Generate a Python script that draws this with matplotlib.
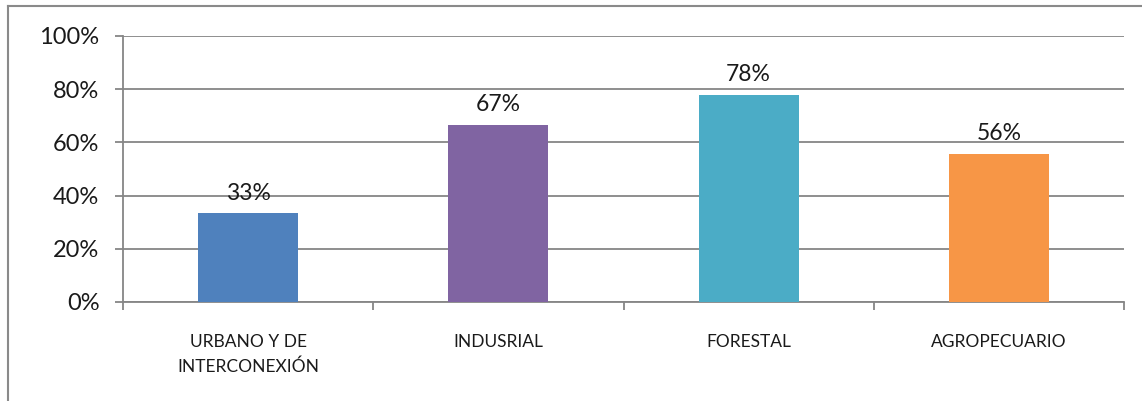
import matplotlib as mpl
mpl.use('Agg')
import matplotlib.pyplot as plt
from matplotlib.lines import Line2D
import numpy as np

categories = ["URBANO Y DE\nINTERCONEXIÓN", "INDUSRIAL", "FORESTAL", "AGROPECUARIO"]
values = [0.333, 0.667, 0.778, 0.556]
labels = ["33%", "67%", "78%", "56%"]
colors = ["#4F81BD", "#8064A2", "#4BACC6", "#F79646"]
yticks = [0, 0.2, 0.4, 0.6, 0.8, 1.0]

plt.rcParams['font.family'] = ['Lato', 'DejaVu Sans']
grid_col = '#868686'

W, H = 1142, 401
fig = plt.figure(figsize=(W / 100, H / 100), dpi=100)
ax = fig.add_axes([123 / W, 1 - 302 / H, (1124 - 123) / W, (302 - 36) / H])

x = np.arange(len(categories))
ax.bar(x, values, width=0.4, color=colors, zorder=3)
for xi, v, lab in zip(x, values, labels):
    ax.annotate(lab, (xi, v), xytext=(0, 7), textcoords='offset points',
                ha='center', va='bottom', fontsize=16.5, color='#1a1a1a')

ax.set_xlim(-0.5, len(categories) - 0.5)
ax.set_ylim(0, 1.0)
ax.set_yticks(yticks)
ax.set_yticklabels([f"{int(round(t * 100))}%" for t in yticks], fontsize=17, color='#1a1a1a')
ax.yaxis.grid(True, color=grid_col, linewidth=1.3, zorder=0)
ax.tick_params(axis='y', length=6, width=1.3, color=grid_col, pad=11)

ax.set_xticks(x)
ax.set_xticklabels(categories, fontsize=12.5, color='#1a1a1a', linespacing=1.6)
ax.tick_params(axis='x', which='major', length=0, pad=23)
ax.set_xticks(np.arange(len(categories) + 1) - 0.5, minor=True)
ax.tick_params(axis='x', which='minor', length=6, width=1.3, color=grid_col)

for s in ['top', 'right']:
    ax.spines[s].set_visible(False)
for s in ['left', 'bottom']:
    ax.spines[s].set_color(grid_col)
    ax.spines[s].set_linewidth(1.3)

# outer chart border (only left and top visible in crop)
fig.add_artist(Line2D([8 / W, 8 / W], [0, 1 - 6 / H], transform=fig.transFigure,
                      color='#8a8a8a', linewidth=1.5))
fig.add_artist(Line2D([8 / W, 1], [1 - 6 / H, 1 - 6 / H], transform=fig.transFigure,
                      color='#8a8a8a', linewidth=1.5))

fig.savefig('out.png', dpi=100)
